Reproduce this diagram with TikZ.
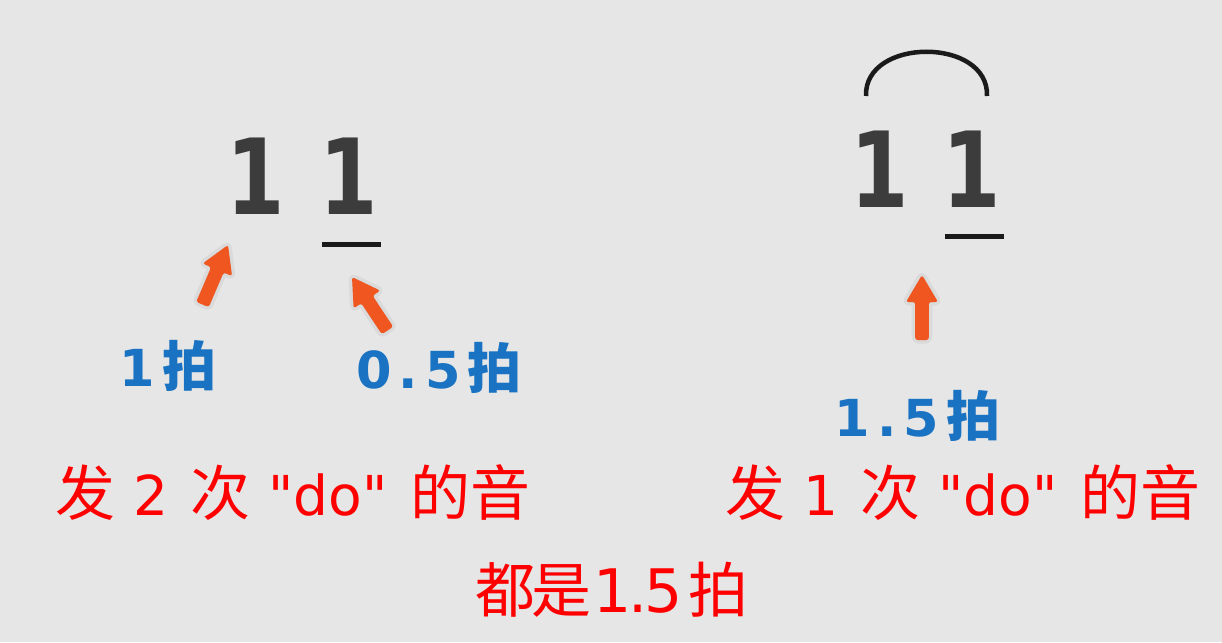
\documentclass[tikz,border=0pt]{standalone}
\usepackage{fontspec}
\usepackage{graphicx}
\setmainfont{DejaVu Sans}[Ligatures=TeXOff]
\newfontfamily\cjk{Noto Sans CJK SC}
\usetikzlibrary{calc}
\definecolor{bg}{HTML}{E6E6E6}
\definecolor{digit}{HTML}{3C3C3C}
\definecolor{ink}{HTML}{1A1A1A}
\definecolor{orange}{HTML}{F0561F}
\definecolor{blue}{HTML}{1A73C2}
\definecolor{red}{HTML}{FF0000}
\newcommand\hz[1]{{\cjk\fontsize{60}{60}\selectfont #1}}
\newcommand\bz[1]{{\cjk\bfseries\fontsize{54}{54}\selectfont #1}}
\newcommand\narrow[1]{\scalebox{0.8}[1]{#1}}
\newcommand\ls{\hspace{7pt}}
% fat arrow from tail #1 to tip #2
\newcommand\fatarrow[2]{%
  \coordinate (hb) at ($(#2)!27pt!(#1)$);
  \path[fill=black, fill opacity=0.06, draw=black, draw opacity=0.05, line width=7pt, rounded corners=3pt, line join=round]
    (#2) -- ($(hb)!16pt!90:(#2)$) -- ($(hb)!6.8pt!90:(#2)$) -- ($(#1)!6.8pt!90:(#2)$)
    -- ($(#1)!6.8pt!-90:(#2)$) -- ($(hb)!6.8pt!-90:(#2)$) -- ($(hb)!16pt!-90:(#2)$) -- cycle;
  \fill[orange, rounded corners=2.5pt]
    (#2) -- ($(hb)!16pt!90:(#2)$) -- ($(hb)!6.8pt!90:(#2)$) -- ($(#1)!6.8pt!90:(#2)$)
    -- ($(#1)!6.8pt!-90:(#2)$) -- ($(hb)!6.8pt!-90:(#2)$) -- ($(hb)!16pt!-90:(#2)$) -- cycle;
}
\tikzset{
  note/.style={font=\bfseries\fontsize{105}{105}\selectfont, text=digit, inner sep=0pt, anchor=base},
  beat/.style={font=\bfseries\fontsize{51}{51}\selectfont, text=blue, inner sep=0pt, anchor=base west},
  say/.style={font=\fontsize{55}{55}\selectfont, text=red, inner sep=0pt, anchor=base west},
  uline/.style={draw=ink, line width=5pt},
}
\begin{document}
\begin{tikzpicture}[x=1pt,y=-1pt]
\fill[bg] (0,0) rectangle (1222,642);
\useasboundingbox (0,0) rectangle (1222,642);

% left group
\node[note] (l1) at (256,214) {\narrow{1}};
\node[note] (l2) at (348.5,214) {\narrow{1}};
\draw[uline] (322,244) -- (381,244);
\coordinate (a1t) at (228,245);
\coordinate (a1s) at (202.5,304.5);
\fatarrow{a1s}{a1t}
\coordinate (a2t) at (352,277);
\coordinate (a2s) at (387.5,330.5);
\fatarrow{a2s}{a2t}
\node[beat] (b1) at (119.5,386) {1\ls\bz{拍}};
\node[beat] (b2) at (356,388) {0\ls.\ls5\ls\bz{拍}};
\node[say] (s1) at (55,515)
  {\hz{发}\hspace{18pt}2\hspace{22pt}\hz{次}\hspace{18pt}"do"\hspace{23pt}\hz{的音}};

% right group
\node[note] (r1) at (880,207) {\narrow{1}};
\node[note] (r2) at (972,207) {\narrow{1}};
\draw[uline] (945,236) -- (1004,236);
\coordinate (tieL) at (866,96);
\coordinate (tieR) at (987,96);
\draw[ink, line width=4.5pt] (tieL) .. controls (864,37) and (989,37) .. (tieR);
\coordinate (a3t) at (922,275);
\coordinate (a3s) at (922,340);
\fatarrow{a3s}{a3t}
\node[beat] (b3) at (834.5,436) {1\ls.\ls5\ls\bz{拍}};
\node[say] (s2) at (725,515)
  {\hz{发}\hspace{18pt}1\hspace{22pt}\hz{次}\hspace{18pt}"do"\hspace{23pt}\hz{的音}};

% bottom
\node[say, font=\fontsize{60}{60}\selectfont] (s3) at (475,612)
  {\hz{都}\hspace{-4pt}\hz{是}\hspace{2.4pt}1\hspace{-3.2pt}.\hspace{-3.5pt}5\hspace{6pt}\hz{拍}};
\end{tikzpicture}
\end{document}
